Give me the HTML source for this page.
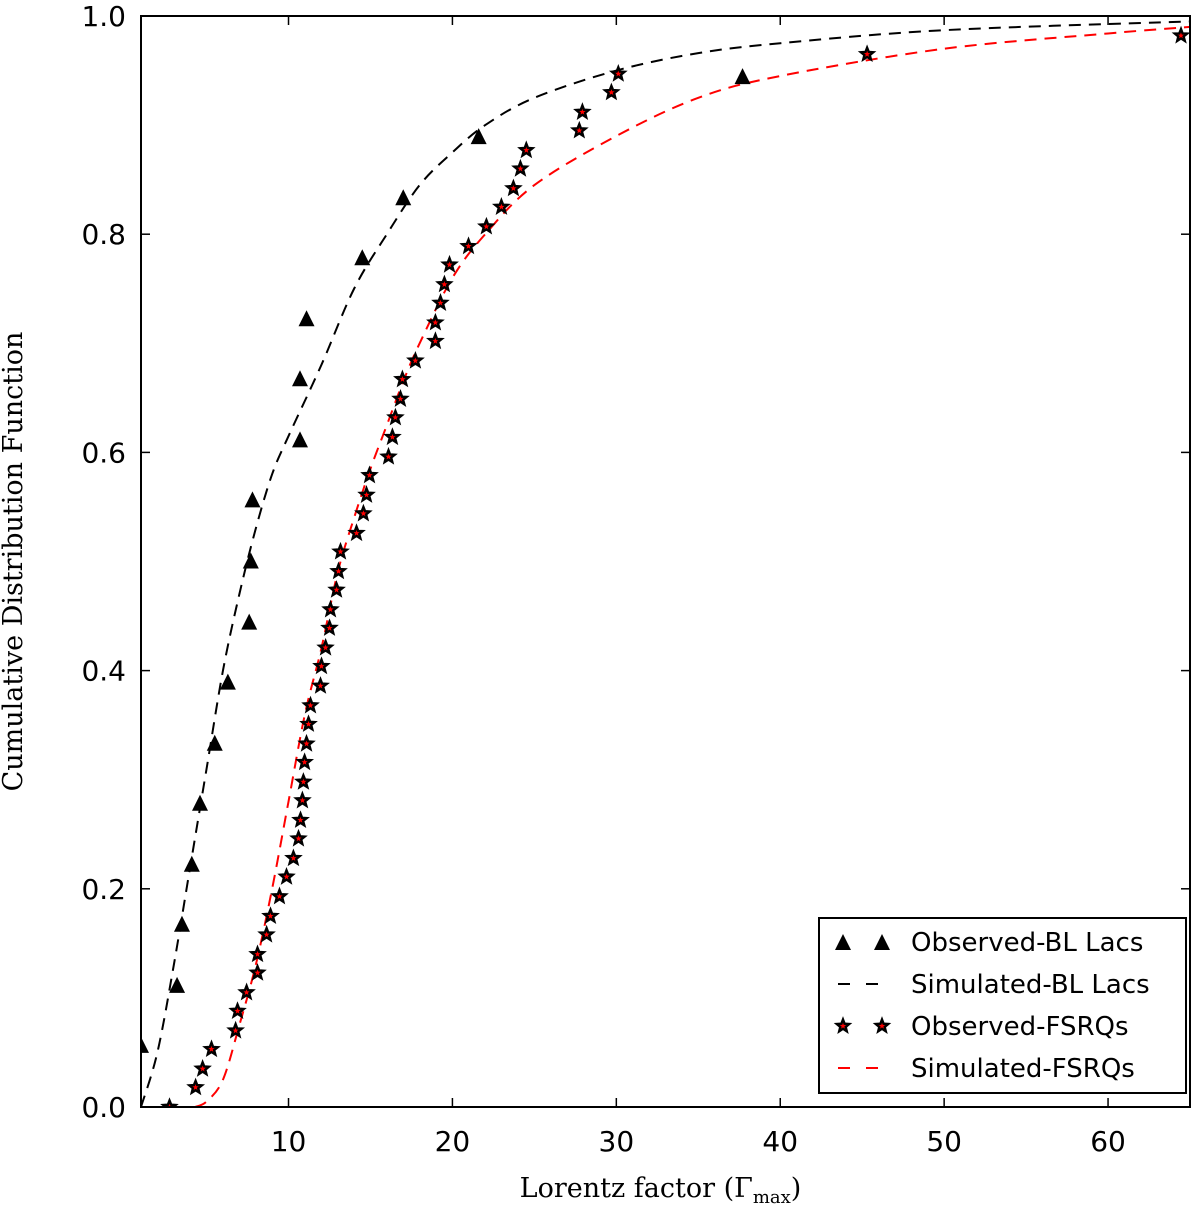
<!DOCTYPE html>
<html><head><meta charset="utf-8"><style>
body{margin:0;background:#fff}
svg{display:block}
.tick{font-family:"DejaVu Sans","Liberation Sans",sans-serif;font-size:28px;fill:#000}
.title{font-family:"DejaVu Serif","Liberation Serif",serif;font-size:27px;fill:#000}
.leg{font-family:"DejaVu Sans","Liberation Sans",sans-serif;font-size:26px;fill:#000}
</style></head><body>
<svg id="chart" width="1200" height="1214" xmlns="http://www.w3.org/2000/svg"></svg>
<script>
const xTicks=[10,20,30,40,50,60];
const yTicks=[0.0,0.2,0.4,0.6,0.8,1.0];
const blObsX=[1.0,3.2,3.5,4.1,4.6,5.5,6.3,7.6,7.7,7.8,10.7,10.7,11.1,14.5,17.0,21.6,37.7];
const blObsY=[.056,.111,.167,.222,.278,.333,.389,.444,.5,.556,.611,.667,.722,.778,.833,.889,.944];
const fsObsX=[2.74,4.33,4.76,5.30,6.77,6.89,7.44,8.11,8.11,8.66,8.90,9.45,9.88,10.30,10.61,10.73,10.85,10.91,10.98,11.10,11.22,11.34,11.95,12.01,12.26,12.50,12.56,12.93,13.05,13.17,14.15,14.57,14.76,14.94,16.10,16.34,16.52,16.83,16.95,17.74,18.96,18.96,19.27,19.51,19.82,20.98,22.07,22.99,23.72,24.15,24.51,27.74,27.93,29.70,30.12,45.3,64.45];
const fsObsY=[0,.018,.035,.053,.070,.088,.105,.123,.140,.158,.175,.193,.211,.228,.246,.263,.281,.298,.316,.333,.351,.368,.386,.404,.421,.439,.456,.474,.491,.509,.526,.544,.561,.579,.596,.614,.632,.649,.667,.684,.702,.719,.737,.754,.772,.789,.807,.825,.842,.860,.877,.895,.912,.930,.947,.965,.982];
const blSimX=[1,2,3,4,5,6,7,8,9,10,12,14,16,18,20,22,25,30,35,40,50,65];
const blSimY=[0,.05,.13,.22,.31,.40,.47,.53,.58,.615,.68,.75,.80,.845,.875,.90,.925,.95,.966,.975,.987,.995];
const fsSimX=[4.3,5,6,7,8,9,10,11,12,13,14,15,16,17,18,20,22,25,30,35,40,50,60,65];
const fsSimY=[0,.005,.025,.075,.13,.20,.28,.36,.42,.49,.54,.585,.625,.665,.70,.76,.80,.845,.89,.925,.945,.97,.984,.99];

const L=141,R=1190,T=16,B=1107,X0=1,X1=65;
const sx=v=>L+(v-X0)/(X1-X0)*(R-L);
const sy=v=>B-v*(B-T);
const svg=document.getElementById('chart');
const NS='http://www.w3.org/2000/svg';
function mk(tag,at,parent){const e=document.createElementNS(NS,tag);for(const k in at)e.setAttribute(k,at[k]);(parent||svg).appendChild(e);return e;}

const defs=mk('defs',{});
const clip=mk('clipPath',{id:'pc'},defs);mk('rect',{x:L,y:T,width:R-L,height:B-T},clip);

xTicks.forEach(v=>{
 const g=mk('g',{});
 
 
 mk('line',{x1:sx(v),x2:sx(v),y1:B,y2:B-9,stroke:'#000','stroke-width':1.5},g);
 mk('line',{x1:sx(v),x2:sx(v),y1:T,y2:T+9,stroke:'#000','stroke-width':1.5},g);
 const t=mk('text',{x:sx(v),y:B+44,'text-anchor':'middle',class:'tick'},g);t.textContent=v;
});
yTicks.forEach(v=>{
 const g=mk('g',{});
 
 
 mk('line',{x1:L,x2:L+9,y1:sy(v),y2:sy(v),stroke:'#000','stroke-width':1.5},g);
 mk('line',{x1:R,x2:R-9,y1:sy(v),y2:sy(v),stroke:'#000','stroke-width':1.5},g);
 const t=mk('text',{x:L-15,y:sy(v)+10,'text-anchor':'end',class:'tick'},g);t.textContent=v.toFixed(1);
});

const plot=mk('g',{'clip-path':'url(#pc)'});


function smoothPath(xs,ys){
 const P=xs.map((x,i)=>[sx(x),sy(ys[i])]);
 let d='M'+P[0][0]+','+P[0][1];
 for(let i=0;i<P.length-1;i++){
  const p0=P[Math.max(0,i-1)],p1=P[i],p2=P[i+1],p3=P[Math.min(P.length-1,i+2)];
  const c1=[p1[0]+(p2[0]-p0[0])/6,p1[1]+(p2[1]-p0[1])/6];
  const c2=[p2[0]-(p3[0]-p1[0])/6,p2[1]-(p3[1]-p1[1])/6];
  d+=` C${c1[0]},${c1[1]} ${c2[0]},${c2[1]} ${p2[0]},${p2[1]}`;
 }
 return d;
}
function line(xs,ys,col,name){
 const p=mk('path',{d:smoothPath(xs,ys),fill:'none',stroke:col,'stroke-width':2,'stroke-dasharray':'12,8'},plot);
 
 
}
line(blSimX,blSimY,'#000','simulated-bl-lacs-line');
line(fsSimX,fsSimY,'#f00','simulated-fsrqs-line');
function tri(cx,cy,p,name){const e=mk('polygon',{points:`${cx},${cy-9} ${cx-8},${cy+7} ${cx+8},${cy+7}`,fill:'#000'},p);}
function star(cx,cy,p,name){
 let pts=[];for(let k=0;k<10;k++){const r=k%2?2.8:6.5,a=-Math.PI/2+k*Math.PI/5;pts.push((cx+r*Math.cos(a)).toFixed(1)+','+(cy+r*Math.sin(a)).toFixed(1));}
 const e=mk('polygon',{points:pts.join(' '),fill:'#f00',stroke:'#000','stroke-width':2.4,'stroke-linejoin':'miter'},p);
 
}
blObsX.forEach((x,i)=>tri(sx(x),sy(blObsY[i]),plot,'bl-lac-point'));
fsObsX.forEach((x,i)=>star(sx(x),sy(fsObsY[i]),plot,'fsrq-point'));

const frame=mk('rect',{x:L,y:T,width:R-L,height:B-T,fill:'none',stroke:'#000','stroke-width':2});


const xt=mk('text',{x:(L+R)/2-5,y:1197,'text-anchor':'middle',class:'title'});

xt.innerHTML='Lorentz factor (Γ<tspan font-size="18" dy="6">max</tspan><tspan dy="-6">)</tspan>';
const yt=mk('text',{x:0,y:0,'text-anchor':'middle',class:'title',transform:`translate(22,${(T+B)/2}) rotate(-90)`});

yt.textContent='Cumulative Distribution Function';

const lg=mk('g',{});

mk('rect',{x:819,y:918,width:367,height:175,fill:'#fff',stroke:'#000','stroke-width':2},lg);
const ly=[942,984,1026,1068];
const labels=['Observed-BL Lacs','Simulated-BL Lacs','Observed-FSRQs','Simulated-FSRQs'];
tri(843,ly[0]+1,lg,'legend-marker-bl');tri(882,ly[0]+1,lg,'legend-marker-bl');
mk('line',{x1:838,x2:850,y1:ly[1],y2:ly[1],stroke:'#000','stroke-width':2},lg);
mk('line',{x1:866,x2:878,y1:ly[1],y2:ly[1],stroke:'#000','stroke-width':2},lg);
star(843,ly[2],lg,'legend-marker-fsrq');star(882,ly[2],lg,'legend-marker-fsrq');
mk('line',{x1:838,x2:850,y1:ly[3],y2:ly[3],stroke:'#f00','stroke-width':2},lg);
mk('line',{x1:866,x2:878,y1:ly[3],y2:ly[3],stroke:'#f00','stroke-width':2},lg);
labels.forEach((s,i)=>{const t=mk('text',{x:911,y:ly[i]+9,class:'leg'},lg);t.textContent=s;});
</script>
</body></html>
